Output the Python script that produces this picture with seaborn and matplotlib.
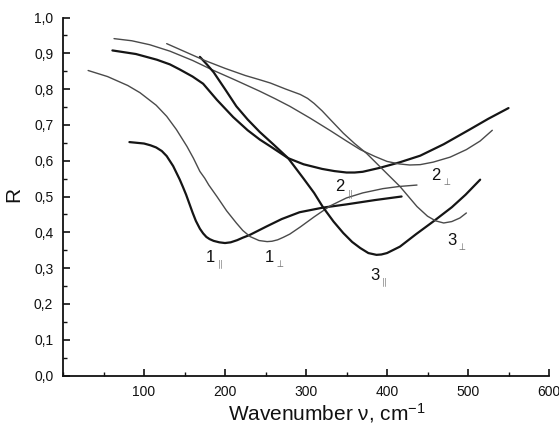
import matplotlib
matplotlib.use("Agg")
import matplotlib.pyplot as plt
from matplotlib.ticker import FuncFormatter, MultipleLocator
import seaborn as sns
import pandas as pd

# Reflectance spectra R(ν); thick = parallel polarisation, thin = perpendicular
x_1par = [82, 100, 108, 115, 122, 128, 136, 144, 148, 152, 156, 160, 164, 169, 173, 177, 181, 186, 193, 200, 207, 215, 222, 230, 251, 270, 292, 321, 350, 385, 418]
r_1par = [0.652, 0.648, 0.643, 0.637, 0.627, 0.613, 0.585, 0.548, 0.527, 0.505, 0.480, 0.455, 0.432, 0.410, 0.397, 0.387, 0.381, 0.376, 0.372, 0.370, 0.372, 0.378, 0.385, 0.392, 0.416, 0.437, 0.456, 0.469, 0.478, 0.490, 0.500]

x_1perp = [31, 55, 80, 95, 115, 128, 140, 153, 161, 169, 175, 180, 190, 202, 214, 222, 231, 242, 252, 258, 265, 272, 280, 293, 310, 330, 350, 370, 395, 415, 437]
r_1perp = [0.852, 0.835, 0.810, 0.790, 0.755, 0.724, 0.687, 0.640, 0.607, 0.570, 0.551, 0.532, 0.500, 0.460, 0.426, 0.405, 0.388, 0.377, 0.374, 0.375, 0.379, 0.386, 0.395, 0.415, 0.443, 0.474, 0.496, 0.510, 0.522, 0.528, 0.532]

x_2par = [61, 90, 116, 132, 144, 160, 173, 190, 210, 228, 243, 256, 278, 297, 320, 335, 350, 360, 370, 391, 415, 441, 470, 502, 525, 550]
r_2par = [0.908, 0.898, 0.882, 0.869, 0.855, 0.835, 0.815, 0.770, 0.722, 0.685, 0.659, 0.640, 0.607, 0.590, 0.577, 0.571, 0.567, 0.567, 0.569, 0.580, 0.595, 0.614, 0.646, 0.687, 0.717, 0.747]

x_2perp = [63, 85, 107, 132, 160, 185, 212, 243, 262, 280, 305, 330, 350, 367, 385, 400, 415, 428, 441, 457, 478, 498, 515, 530]
r_2perp = [0.941, 0.935, 0.924, 0.906, 0.880, 0.853, 0.826, 0.794, 0.773, 0.752, 0.719, 0.684, 0.655, 0.631, 0.612, 0.598, 0.591, 0.588, 0.589, 0.596, 0.610, 0.631, 0.655, 0.685]

x_3par = [169, 178, 186, 200, 214, 228, 243, 260, 278, 297, 310, 321, 334, 346, 357, 367, 377, 387, 393, 400, 416, 436, 457, 480, 497, 515]
r_3par = [0.890, 0.868, 0.847, 0.800, 0.752, 0.715, 0.680, 0.645, 0.607, 0.550, 0.510, 0.470, 0.430, 0.398, 0.373, 0.356, 0.342, 0.337, 0.338, 0.342, 0.360, 0.395, 0.430, 0.470, 0.505, 0.547]

x_3perp = [128, 150, 175, 200, 225, 243, 256, 275, 293, 302, 310, 320, 330, 346, 360, 375, 395, 416, 437, 450, 460, 470, 480, 490, 498]
r_3perp = [0.927, 0.905, 0.880, 0.858, 0.838, 0.826, 0.817, 0.800, 0.785, 0.774, 0.760, 0.739, 0.715, 0.677, 0.648, 0.620, 0.575, 0.528, 0.472, 0.445, 0.432, 0.426, 0.430, 0.440, 0.454]

curve_labels = ["1", "1", "2", "2", "3", "3"]
label_x = [176, 249, 336, 455, 379, 474]
label_y = [0.318, 0.318, 0.514, 0.547, 0.267, 0.365]

x_ticks = [100, 200, 300, 400, 500, 600]
y_ticks = [0.0, 0.1, 0.2, 0.3, 0.4, 0.5, 0.6, 0.7, 0.8, 0.9, 1.0]

sns.set_style("ticks")
plt.rcParams["font.family"] = ["Liberation Sans", "DejaVu Sans"]
plt.rcParams["mathtext.fontset"] = "custom"
plt.rcParams["mathtext.rm"] = "Liberation Sans"
plt.rcParams["mathtext.it"] = "Liberation Sans:italic"

fig = plt.figure(figsize=(5.59, 4.25), dpi=100)
ax = fig.add_axes([63 / 559, 1 - 375.5 / 425, 486 / 559, 358 / 425])

thick = dict(color="#151515", linewidth=1.6, solid_joinstyle="round", solid_capstyle="round")
thin = dict(color="#4a4a4a", linewidth=1.0, solid_joinstyle="round", solid_capstyle="round")

series = [
    (x_1par, r_1par, thick),
    (x_1perp, r_1perp, thin),
    (x_2par, r_2par, thick),
    (x_2perp, r_2perp, thin),
    (x_3par, r_3par, thick),
    (x_3perp, r_3perp, thin),
]
for xs, rs, style in series:
    df = pd.DataFrame({"nu": xs, "R": rs})
    sns.lineplot(data=df, x="nu", y="R", sort=False, estimator=None, ax=ax, **style)

# curve labels: number with polarisation subscript
subs = [r"\parallel", r"\perp", r"\parallel", r"\perp", r"\parallel", r"\perp"]
for lab, sub, lx, ly in zip(curve_labels, subs, label_x, label_y):
    ax.text(lx, ly, lab, fontsize=12, color="#111111", ha="left", va="baseline")
    ax.annotate(rf"${sub}$", xy=(lx, ly), xytext=(7.5, -4), textcoords="offset points",
                fontsize=7, color="#777777", ha="left", va="baseline")

ax.set_xlim(0, 600)
ax.set_ylim(0, 1.0)
ax.set_xticks(x_ticks)
ax.set_yticks(y_ticks)
ax.xaxis.set_minor_locator(MultipleLocator(50))
ax.yaxis.set_minor_locator(MultipleLocator(0.05))
ax.yaxis.set_major_formatter(FuncFormatter(lambda v, p: f"{v:.1f}".replace(".", ",")))
ax.tick_params(which="major", direction="in", length=5, width=1.2, labelsize=10,
               colors="#111111", pad=7)
ax.tick_params(which="minor", direction="in", length=3, width=1.0, colors="#111111")

for side in ("top", "right"):
    ax.spines[side].set_visible(False)
for side in ("left", "bottom"):
    ax.spines[side].set_linewidth(1.3)
    ax.spines[side].set_color("#111111")

ax.set_xlabel(r"Wavenumber ν, cm$^{\mathregular{-1}}$", fontsize=15, color="#111111")
ax.set_ylabel("R", fontsize=15, color="#111111")
ax.xaxis.set_label_coords(0.543, -0.072)
ax.yaxis.set_label_coords(-0.082, 0.507)

fig.savefig("out.png", dpi=100)
